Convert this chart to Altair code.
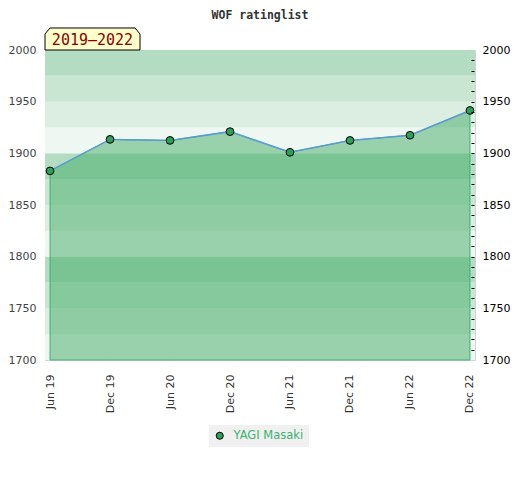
import altair as alt
import pandas as pd

title_text = "WOF ratinglist"
period_label = "2019–2022"
player = "YAGI Masaki"

dates = ["Jun 19", "Dec 19", "Jun 20", "Dec 20", "Jun 21", "Dec 21", "Jun 22", "Dec 22"]
ratings = [1883, 1913.5, 1912.5, 1921, 1901, 1912.5, 1917.5, 1941.5]

band_lows = [1700, 1725, 1750, 1775, 1800, 1825, 1850, 1875, 1900, 1925, 1950, 1975]
band_highs = [1725, 1750, 1775, 1800, 1825, 1850, 1875, 1900, 1925, 1950, 1975, 2000]
band_colors = ["#eef7f1", "#dcede2", "#c9e6d3", "#b3dcc2",
               "#eef7f1", "#dcede2", "#c9e6d3", "#b3dcc2",
               "#eef7f1", "#dcede2", "#c9e6d3", "#b3dcc2"]

major_ticks = [1700, 1750, 1800, 1850, 1900, 1950, 2000]
minor_ticks = [1700, 1710, 1720, 1730, 1740, 1750, 1760, 1770, 1780, 1790,
               1800, 1810, 1820, 1830, 1840, 1850, 1860, 1870, 1880, 1890,
               1900, 1910, 1920, 1930, 1940, 1950, 1960, 1970, 1980, 1990, 2000]

df = pd.DataFrame({"date": dates, "rating": ratings, "player": [player] * len(dates)})
bands = pd.DataFrame({"lo": band_lows, "hi": band_highs, "fill": band_colors})
badge = pd.DataFrame({"label": [period_label]})

FONT = "DejaVu Sans"
yscale = alt.Scale(domain=[1700, 2000], nice=False, zero=False)
xscale = alt.Scale(type="point", padding=0.084)

left_axis = alt.Axis(orient="left", values=major_ticks, format="d", ticks=False, domain=False,
                     grid=False, labelPadding=9, labelColor="#444", labelFontSize=11,
                     labelFont=FONT, title=None)
right_axis = alt.Axis(orient="right", values=minor_ticks, format="d",
                      labelExpr="datum.value % 50 == 0 ? datum.label : ''",
                      tickSize=3, tickColor="black", tickWidth=1, offset=-4, zindex=1,
                      tickOpacity={"condition": {"test": "datum.value == 1700 || datum.value == 2000",
                                                 "value": 0}, "value": 1},
                      labelPadding=8, domain=False, grid=False, labelColor="black",
                      labelFontSize=11, labelFont=FONT, labelOverlap=False, title=None)
x_axis = alt.Axis(title=None, labelAngle=270, ticks=False, domain=False, labelPadding=14,
                  labelFontSize=11, labelColor="#333", labelFont=FONT, grid=False)

band_layer = alt.Chart(bands).mark_rect().encode(
    y=alt.Y("lo:Q", scale=yscale, axis=left_axis),
    y2="hi:Q",
    fill=alt.Fill("fill:N", scale=None),
)

base = alt.Chart(df).encode(
    x=alt.X("date:O", sort=dates, scale=xscale, axis=x_axis),
    y=alt.Y("rating:Q", scale=yscale, axis=right_axis),
)

area = base.mark_area(fill="#41ac65", fillOpacity=0.5, stroke="#3cb371",
                      strokeOpacity=1, strokeWidth=1).encode(y2=alt.datum(1700))
line = base.mark_line(color="#5b9bd5", strokeWidth=1.5)
points = base.mark_point(filled=True, size=60, stroke="black", strokeWidth=1, opacity=1).encode(
    color=alt.Color("player:N", scale=alt.Scale(range=["#2ca05a"]),
                    legend=alt.Legend(title=None, orient="none", legendX=164, legendY=375,
                                      fillColor="#f0f0f0", padding=5, symbolType="circle",
                                      symbolSize=50, symbolStrokeColor="black",
                                      symbolStrokeWidth=1, labelColor="#3cb371",
                                      labelFontSize=11.5, labelFont=FONT, labelOffset=8))
)

data_layer = alt.layer(area, line, points)

badge_path = ("M -1 0.2316 L -1 -0.105 L -0.895 -0.2316 L 0.895 -0.2316 "
              "L 1 -0.105 L 1 0.2316 Z")
badge_box = alt.Chart(badge).mark_point(shape=badge_path, size=9025, filled=True,
                                        fill="#ffffcc", stroke="black", strokeWidth=1,
                                        opacity=1, fillOpacity=1, strokeOpacity=1).encode(
    x=alt.value(47.5), y=alt.value(-11))
badge_text = alt.Chart(badge).mark_text(font="DejaVu Sans Mono", fontSize=15, color="#8b0000",
                                        align="center", baseline="middle").encode(
    x=alt.value(47.5), y=alt.value(-10), text="label:N")

chart = alt.layer(band_layer, data_layer, badge_box, badge_text).resolve_scale(
    y="independent"
).properties(
    width=430, height=310,
    title=alt.TitleParams(text=title_text, font="DejaVu Sans Mono", fontSize=11.5,
                          fontWeight="bold", color="#333", anchor="middle", frame="group",
                          offset=4),
    autosize=alt.AutoSizeParams(type="none"),
    padding={"left": 37, "top": 42, "right": 37, "bottom": 110},
).configure_view(stroke="#d3d3d3", strokeWidth=1)

chart.save("out.html", embed_options={"renderer": "svg", "actions": False})
